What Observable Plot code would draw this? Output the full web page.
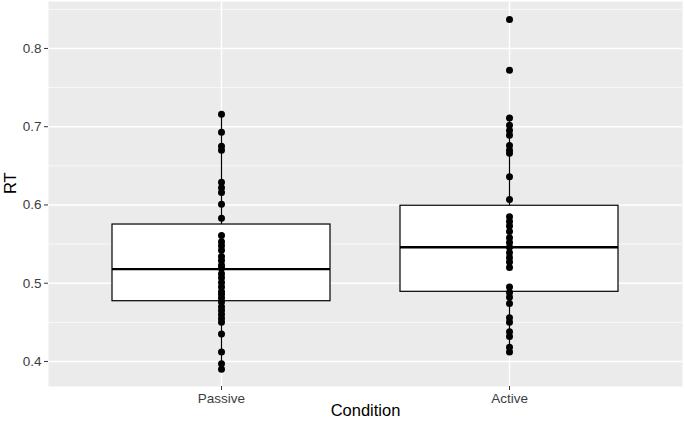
<!DOCTYPE html>
<html><head><meta charset="utf-8">
<script src="https://cdn.jsdelivr.net/npm/d3@7"></script>
<script src="https://cdn.jsdelivr.net/npm/@observablehq/plot@0.6"></script>
<style>body{margin:0;background:#fff} svg{display:block}</style>
</head><body><div id="chart"></div>
<script>
const conditions = ["Passive", "Active"];
const passiveRT = [0.716, 0.693, 0.675, 0.670, 0.629, 0.622, 0.616, 0.601, 0.583, 0.561, 0.553, 0.548, 0.542, 0.534, 0.529, 0.523, 0.519, 0.512, 0.507, 0.501, 0.495, 0.489, 0.486, 0.481, 0.476, 0.470, 0.465, 0.460, 0.455, 0.450, 0.435, 0.412, 0.397, 0.390];
const activeRT = [0.837, 0.772, 0.711, 0.702, 0.695, 0.689, 0.676, 0.670, 0.666, 0.636, 0.607, 0.585, 0.579, 0.573, 0.566, 0.558, 0.552, 0.546, 0.539, 0.533, 0.527, 0.520, 0.495, 0.488, 0.482, 0.474, 0.456, 0.450, 0.438, 0.432, 0.418, 0.412];
const boxQ1 = [0.477, 0.489];
const boxMedian = [0.518, 0.546];
const boxQ3 = [0.575, 0.599];
const whiskerLow = [0.390, 0.412];
const whiskerHigh = [0.716, 0.711];
const yTicks = [0.4, 0.5, 0.6, 0.7, 0.8];
const yMinorTicks = [0.45, 0.55, 0.65, 0.75, 0.85];

const points = [
  ...passiveRT.map(v => ({condition: "Passive", rt: v})),
  ...activeRT.map(v => ({condition: "Active", rt: v}))
];
const boxes = conditions.map((c, i) => ({
  condition: c, q1: boxQ1[i], median: boxMedian[i], q3: boxQ3[i], lo: whiskerLow[i], hi: whiskerHigh[i]
}));

const inset = 35;
const chart = Plot.plot({
  width: 685, height: 426,
  marginTop: 1, marginBottom: 40, marginLeft: 48, marginRight: 3,
  style: {fontFamily: "'Liberation Sans', Arial, sans-serif", fontSize: "13.5px", background: "white"},
  x: {type: "band", domain: conditions, paddingInner: 0, paddingOuter: 0.1, label: null},
  y: {domain: [0.368, 0.86], label: null},
  marks: [
    Plot.frame({fill: "#EBEBEB", stroke: null}),
    Plot.ruleY(yMinorTicks, {stroke: "white", strokeWidth: 0.7}),
    Plot.ruleY(yTicks, {stroke: "white", strokeWidth: 1.4}),
    Plot.ruleX(conditions, {x: d => d, stroke: "white", strokeWidth: 1.4}),
    Plot.ruleX(boxes, {x: "condition", y1: "lo", y2: "hi", stroke: "black", strokeWidth: 1.2}),
    Plot.barY(boxes, {x: "condition", y1: "q1", y2: "q3", fill: "white", stroke: "black", strokeWidth: 1.2, insetLeft: inset, insetRight: inset}),
    Plot.tickY(boxes, {x: "condition", y: "median", stroke: "black", strokeWidth: 2.4, insetLeft: inset, insetRight: inset}),
    Plot.dot(points, {x: "condition", y: "rt", r: 3.5, fill: "black", stroke: null}),
    Plot.axisY(yTicks, {tickFormat: ".1f", tickSize: 4, tickPadding: 3, stroke: "#333", fill: "#3d3d3d", label: null}),
    Plot.axisX({tickSize: 4, tickPadding: 3, stroke: "#333", fill: "#3d3d3d", label: null}),
    Plot.text(["Condition"], {frameAnchor: "bottom", dy: 29, fontSize: 16.5, fill: "black"}),
    Plot.text(["RT"], {frameAnchor: "left", dx: -38, rotate: -90, fontSize: 16.5, fill: "black"})
  ]
});
document.getElementById("chart").append(chart);
</script>
</body></html>
